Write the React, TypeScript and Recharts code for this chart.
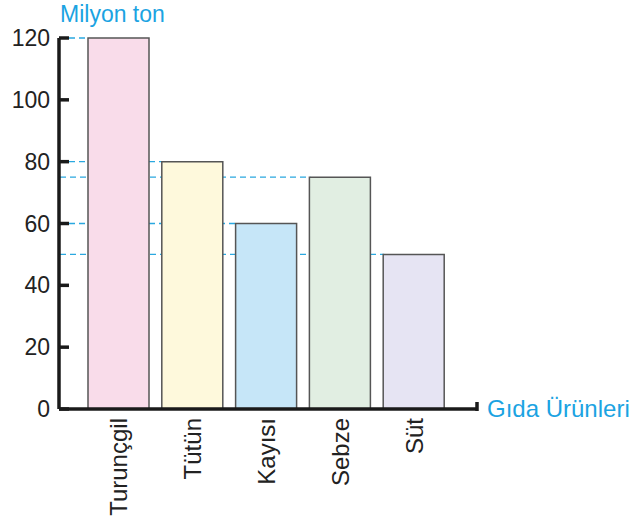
import { Bar, BarChart, Cell, Label, XAxis, YAxis } from 'recharts';

const categories = ['Turunçgil', 'Tütün', 'Kayısı', 'Sebze', 'Süt'];
const values = [120, 80, 60, 75, 50];
const barColors = ['#f9dcea', '#fef9dc', '#c6e6f8', '#e1eee2', '#e6e4f3'];
const yTicks = [0, 20, 40, 60, 80, 100, 120];

const data = categories.map((name, i) => ({ name, value: values[i] }));

const FONT = '"Liberation Sans", Arial, sans-serif';
const AXIS_X = 59;
const TICK_LEN = 10;
const BLUE = '#1ba3e2';
const INK = '#1a1a1a';

// dashed guide from the y axis to the left edge of each bar;
// where a tick mark sits, start after it so the tick stays black
function GuideLine(props: any) {
  const { x, y, value } = props;
  const v = Array.isArray(value) ? value[1] : value;
  const start = yTicks.includes(v) ? AXIS_X + TICK_LEN : AXIS_X + 1;
  return (
    <line x1={start} x2={x} y1={y} y2={y} stroke="#2aa8e0" strokeWidth={1.3} strokeDasharray="6 4" />
  );
}

function YTick(props: any) {
  const { x, y, payload } = props;
  return (
    <g>
      <line x1={AXIS_X} x2={AXIS_X + TICK_LEN} y1={y} y2={y} stroke={INK} strokeWidth={3.5} />
      <text x={x} y={y} textAnchor="end" dominantBaseline="central" fontSize={23} fill="#222" fontFamily={FONT}>
        {payload.value}
      </text>
    </g>
  );
}

function XTick(props: any) {
  const { x, y, payload } = props;
  return (
    <text
      x={x}
      y={y}
      transform={`rotate(-90, ${x}, ${y})`}
      textAnchor="end"
      dominantBaseline="central"
      fontSize={24}
      fill="#222"
      fontFamily={FONT}
    >
      {payload.value}
    </text>
  );
}

// axis titles drawn inside the svg at the ends of the axes
function YTitle(props: any) {
  const { viewBox } = props;
  return (
    <text x={viewBox.x + viewBox.width + 1} y={viewBox.y - 16} fontSize={23} fill={BLUE} fontFamily={FONT}>
      Milyon ton
    </text>
  );
}

function XTitle(props: any) {
  const { viewBox } = props;
  return (
    <text x={viewBox.x + viewBox.width + 9} y={viewBox.y + 8} fontSize={24} fill={BLUE} fontFamily={FONT}>
      Gıda Ürünleri
    </text>
  );
}

export default function App() {
  return (
    <div style={{ position: 'fixed', left: 0, top: 0, width: 639, height: 530, background: '#fff' }}>
      <BarChart width={639} height={530} data={data} margin={{ top: 38, right: 161, bottom: 0, left: 0 }}>
        <XAxis xAxisId="guide" dataKey="name" hide padding={{ left: 23, right: 27 }} />
        <XAxis
          dataKey="name"
          padding={{ left: 23, right: 27 }}
          height={121}
          interval={0}
          axisLine={{ stroke: INK, strokeWidth: 3.5 }}
          tickLine={false}
          tickSize={0}
          tickMargin={9}
          tick={<XTick />}
        >
          <Label content={<XTitle />} />
        </XAxis>
        <YAxis
          domain={[0, 120]}
          ticks={yTicks}
          width={59}
          interval={0}
          axisLine={{ stroke: INK, strokeWidth: 3.5 }}
          tickLine={false}
          tickSize={0}
          tickMargin={9}
          tick={<YTick />}
        >
          <Label content={<YTitle />} />
        </YAxis>
        <Bar xAxisId="guide" dataKey="value" barSize={60} shape={<GuideLine />} isAnimationActive={false} />
        <Bar dataKey="value" barSize={61} stroke="#555" strokeWidth={1.5} isAnimationActive={false}>
          {data.map((d, i) => (
            <Cell key={d.name} fill={barColors[i]} />
          ))}
        </Bar>
      </BarChart>
      <svg style={{ position: 'absolute', left: 0, top: 0 }} width={639} height={530}>
        <line x1={477} x2={477} y1={411} y2={402} stroke={INK} strokeWidth={3.5} />
      </svg>
    </div>
  );
}
